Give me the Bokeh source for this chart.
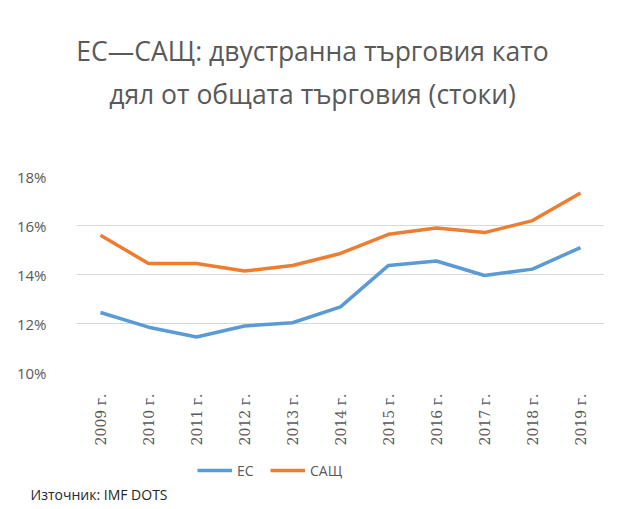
from bokeh.plotting import figure
from bokeh.layouts import column
from bokeh.models import (FactorRange, Range1d, FixedTicker, PrintfTickFormatter,
                          Label, Legend, LegendItem, Title)
from bokeh.embed import file_html
from bokeh.resources import INLINE
import math

years = ["2009 г.", "2010 г.", "2011 г.", "2012 г.", "2013 г.", "2014 г.",
         "2015 г.", "2016 г.", "2017 г.", "2018 г.", "2019 г."]
eu_values = [12.45, 11.85, 11.45, 11.9, 12.03, 12.68, 14.37, 14.55, 13.96, 14.22, 15.1]
us_values = [15.6, 14.45, 14.45, 14.14, 14.37, 14.86, 15.64, 15.9, 15.71, 16.2, 17.33]
y_ticks = [10, 12, 14, 16, 18]
title_line1 = "ЕС—САЩ: двустранна търговия като"
title_line2 = "дял от общата търговия (стоки)"
source_text = "Източник: IMF DOTS"
series_names = ["ЕС", "САЩ"]
EU_COLOR = "#5B9BD5"
US_COLOR = "#ED7D31"


def blank(fig):
    fig.title.visible = False
    fig.outline_line_color = None
    fig.border_fill_color = "white"
    fig.xgrid.visible = False
    fig.ygrid.visible = False
    return fig


# --- title strip ---
p0 = blank(figure(width=604, height=166, output_backend="svg", toolbar_location=None,
                  x_range=Range1d(0, 1), y_range=Range1d(0, 1),
                  x_axis_type=None, y_axis_type=None,
                  min_border_left=0, min_border_right=0, min_border_top=0,
                  min_border_bottom=0))
for txt, y in ((title_line1, 116), (title_line2, 73)):
    p0.add_layout(Label(x=236, y=y, x_units="screen", y_units="screen", text=txt,
                        text_align="center", text_baseline="middle",
                        text_font="Open Sans", text_font_size="26.5px",
                        text_color="#595959"))

# --- main chart ---
p = figure(width=604, height=286, output_backend="svg", toolbar_location=None,
           x_range=FactorRange(*years), y_range=Range1d(10, 18),
           min_border_left=76, min_border_right=0, min_border_top=10,
           min_border_bottom=80)
p.title.visible = False
p.outline_line_color = None
p.border_fill_color = "white"

p.line(years, eu_values, line_color=EU_COLOR, line_width=3.5)
p.line(years, us_values, line_color=US_COLOR, line_width=3.5)

p.xgrid.grid_line_color = None
p.ygrid.grid_line_color = "#D9D9D9"
p.ygrid.grid_line_width = 1

p.yaxis.ticker = FixedTicker(ticks=y_ticks)
p.yaxis.formatter = PrintfTickFormatter(format="%d%%")
for ax in (p.xaxis[0], p.yaxis[0]):
    ax.axis_line_color = None
    ax.major_tick_line_color = None
    ax.minor_tick_line_color = None
    ax.major_label_text_color = "#595959"
p.yaxis.major_label_text_font = "Open Sans"
p.yaxis.major_label_text_font_size = "15px"
p.yaxis.major_label_standoff = 24
p.xaxis.major_label_orientation = math.pi / 2
p.xaxis.major_label_text_font = "DejaVu Serif"
p.xaxis.major_label_text_font_size = "14px"
p.xaxis.major_label_standoff = 15

# --- legend / source strip ---
p2 = blank(figure(width=604, height=52, output_backend="svg", toolbar_location=None,
                  x_range=FactorRange(*years), y_range=Range1d(0, 1),
                  x_axis_type=None, y_axis_type=None,
                  min_border_left=0, min_border_right=0, min_border_top=0,
                  min_border_bottom=0))
r1 = p2.line(years, eu_values, line_color=EU_COLOR, line_width=3.5)
r2 = p2.line(years, us_values, line_color=US_COLOR, line_width=3.5)
p2.add_layout(Title(text=source_text, align="left", offset=-46, standoff=2,
                    text_font="Open Sans", text_font_size="14px",
                    text_font_style="normal", text_color="#262626"), "below")
legend = Legend(items=[LegendItem(label=series_names[0], renderers=[r1]),
                       LegendItem(label=series_names[1], renderers=[r2])],
                orientation="horizontal", location=(121, 1),
                background_fill_alpha=0, border_line_color=None,
                label_text_font="Open Sans", label_text_font_size="14px",
                label_text_color="#595959", glyph_width=35, glyph_height=20,
                label_standoff=5, spacing=13, padding=0, margin=0)
p2.add_layout(legend, "center")

layout = column(p0, p, p2, spacing=0)
open("out.html", "w").write(file_html(layout, INLINE))
